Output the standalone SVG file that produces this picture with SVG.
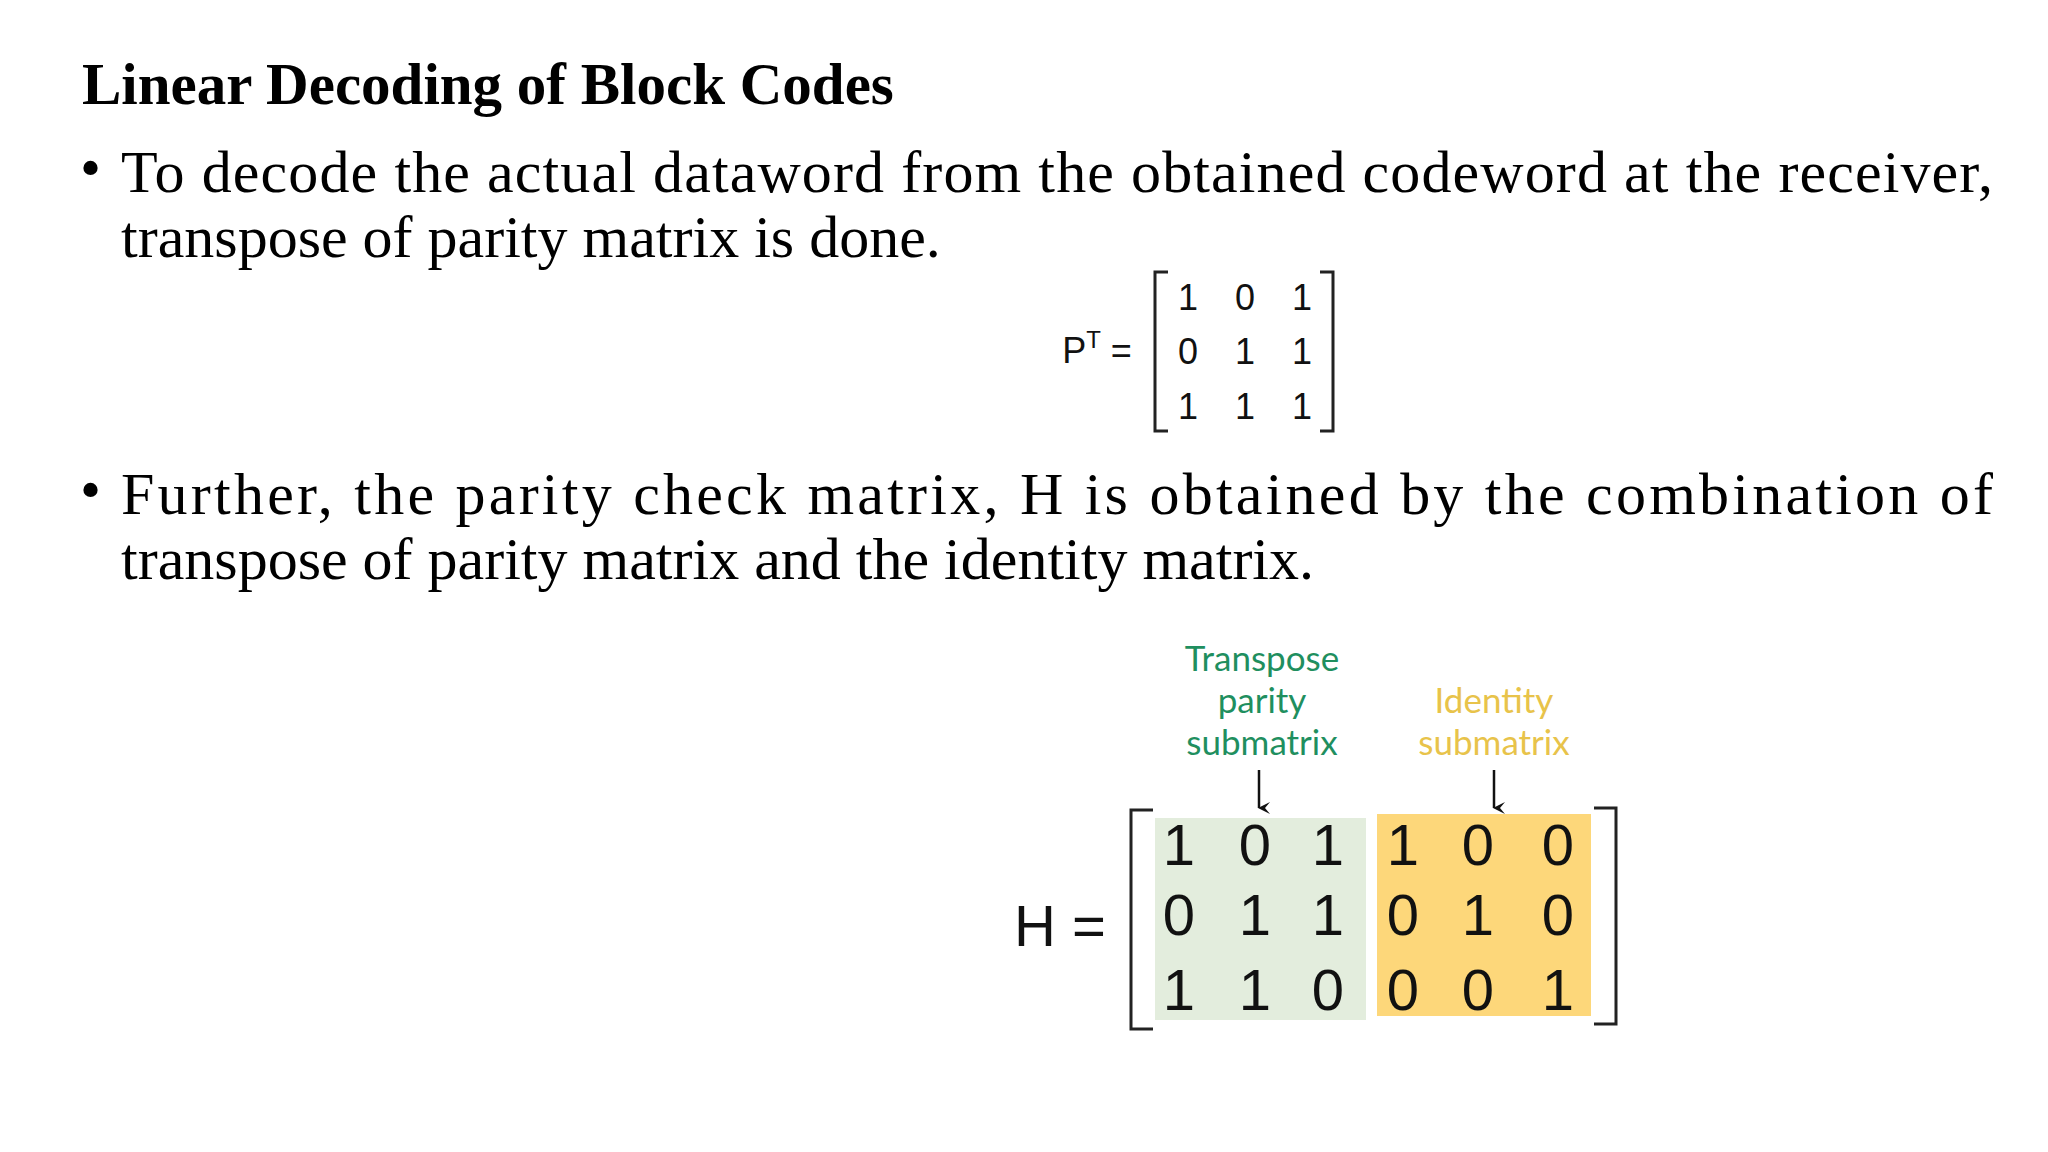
<svg xmlns="http://www.w3.org/2000/svg" width="2048" height="1152" viewBox="0 0 2048 1152">
<style>
.t{font-family:"Liberation Serif",serif;font-size:60px;fill:#000}
.h{font-family:"Liberation Serif",serif;font-size:59px;font-weight:bold;fill:#000}
.m{font-family:"Liberation Sans",sans-serif;fill:#111;text-anchor:middle}
.s{font-size:36px}
.b{font-size:58px}
.br{fill:none;stroke:#222;stroke-width:3}
.lab{font-family:"Lato","Open Sans",sans-serif;font-size:35px;text-anchor:middle}
</style>
<defs><marker id="ah" markerWidth="12" markerHeight="12" refX="6" refY="11" orient="auto-start-reverse" markerUnits="userSpaceOnUse" viewBox="0 0 12 12"><path d="M0,0 L6,12 L12,0 L6,5Z" fill="#111"/></marker></defs>
<rect width="2048" height="1152" fill="#fff"/>
<g id="text">
<text class="h" x="82" y="104">Linear Decoding of Block Codes</text>
<text class="t" x="80" y="188">•</text>
<text class="t" x="121" y="192" textLength="1872" lengthAdjust="spacing">To decode the actual dataword from the obtained codeword at the receiver,</text>
<text class="t" x="121" y="257">transpose of parity matrix is done.</text>
<text class="t" x="80" y="510">•</text>
<text class="t" x="121" y="514" textLength="1872" lengthAdjust="spacing">Further, the parity check matrix, H is obtained by the combination of</text>
<text class="t" x="121" y="579">transpose of parity matrix and the identity matrix.</text>
</g>
<g id="pt">
<text class="m s" x="1097" y="363">P<tspan font-size="24" dy="-15">T</tspan><tspan dy="15"> =</tspan></text>
<path class="br" d="M1168,272 H1155 V431 H1168 M1320,272 H1333 V431 H1320"/>
<text class="m s" x="1188" y="310">1</text><text class="m s" x="1245" y="310">0</text><text class="m s" x="1302" y="310">1</text>
<text class="m s" x="1188" y="364">0</text><text class="m s" x="1245" y="364">1</text><text class="m s" x="1302" y="364">1</text>
<text class="m s" x="1188" y="419">1</text><text class="m s" x="1245" y="419">1</text><text class="m s" x="1302" y="419">1</text>
</g>
<g id="H">
<rect x="1155" y="818" width="211" height="202" fill="#e3eddd"/>
<rect x="1377" y="814" width="214" height="202" fill="#fdd77a"/>
<text class="m b" x="1060" y="946">H =</text>
<path class="br" d="M1153,810 H1131 V1029 H1153 M1594,808 H1616 V1024 H1594" stroke-width="4"/>
<text class="m b" x="1179" y="865">1</text><text class="m b" x="1255" y="865">0</text><text class="m b" x="1328" y="865">1</text>
<text class="m b" x="1403" y="865">1</text><text class="m b" x="1478" y="865">0</text><text class="m b" x="1558" y="865">0</text>
<text class="m b" x="1179" y="935">0</text><text class="m b" x="1255" y="935">1</text><text class="m b" x="1328" y="935">1</text>
<text class="m b" x="1403" y="935">0</text><text class="m b" x="1478" y="935">1</text><text class="m b" x="1558" y="935">0</text>
<text class="m b" x="1179" y="1010">1</text><text class="m b" x="1255" y="1010">1</text><text class="m b" x="1328" y="1010">0</text>
<text class="m b" x="1403" y="1010">0</text><text class="m b" x="1478" y="1010">0</text><text class="m b" x="1558" y="1010">1</text>
</g>
<g id="lab-t"><text class="lab" fill="#1f8f5f" x="1262" y="671">Transpose</text><text class="lab" fill="#1f8f5f" x="1262" y="713">parity</text><text class="lab" fill="#1f8f5f" x="1262" y="755">submatrix</text></g>
<g id="lab-i"><text class="lab" fill="#e8c34a" x="1494" y="713">Identity</text><text class="lab" fill="#e8c34a" x="1494" y="755">submatrix</text></g>
<g id="connectors" stroke="#111" stroke-width="2.5">
<line x1="1259" y1="770" x2="1259" y2="808" marker-end="url(#ah)"/>
<line x1="1494" y1="770" x2="1494" y2="808" marker-end="url(#ah)"/>
</g>
</svg>
